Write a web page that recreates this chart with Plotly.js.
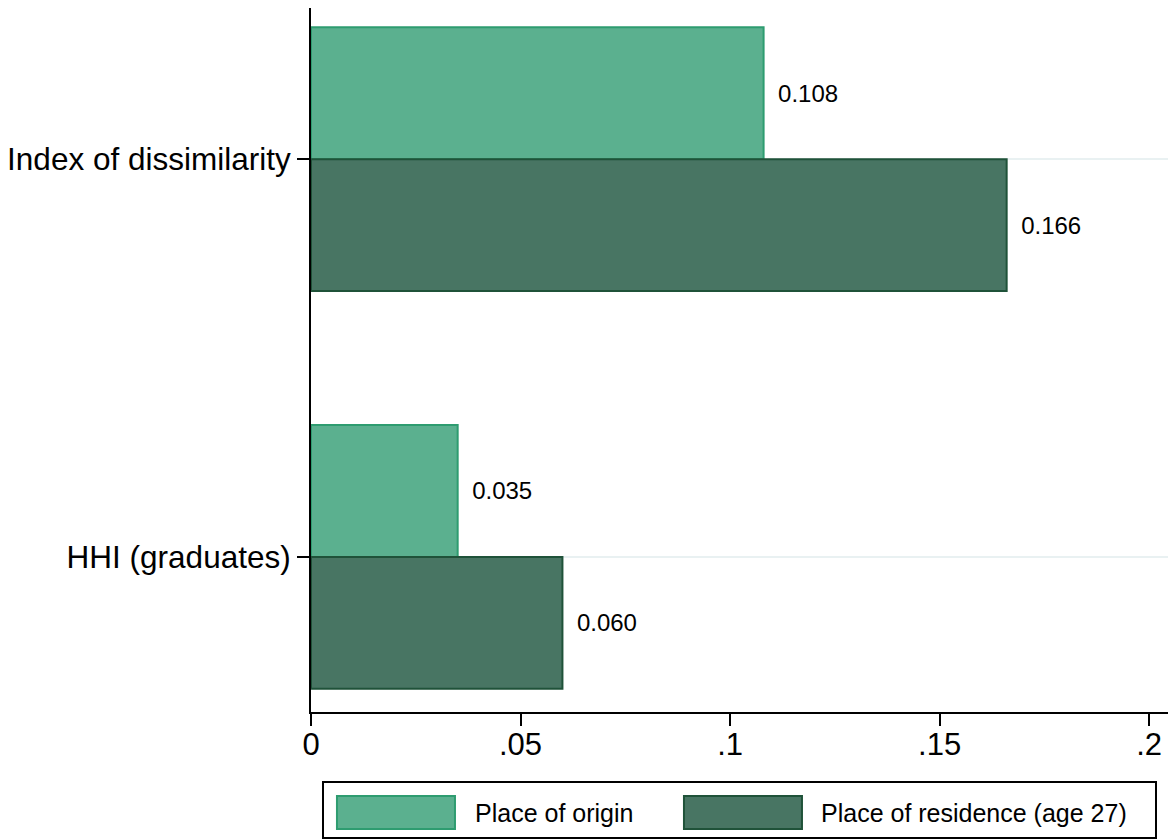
<!DOCTYPE html>
<html>
<head>
<meta charset="utf-8">
<script src="https://cdn.plot.ly/plotly-3.0.1.min.js"></script>
<style>html,body{margin:0;padding:0;background:#fff;}#chart{width:1172px;height:839px;}</style>
</head>
<body>
<div id="chart"></div>
<script>
const categories = ["Index of dissimilarity", "HHI (graduates)"];
const seriesNames = ["Place of origin", "Place of residence (age 27)"];
const originValues = [0.108, 0.035];
const residenceValues = [0.166, 0.060];
const xTickVals = [0, 0.05, 0.1, 0.15, 0.2];
const xTickText = ["0", ".05", ".1", ".15", ".2"];

const fills = ["#5BB08F", "#487563"];
const borders = ["#2E9C70", "#1F5239"];
const FONT = "Liberation Sans, Arial, sans-serif";

const traces = [originValues, residenceValues].map((vals, i) => ({
  type: "bar",
  orientation: "h",
  name: seriesNames[i],
  y: categories,
  x: vals,
  marker: {color: fills[i], line: {color: borders[i], width: 2}},
  texttemplate: "\u00a0\u2009%{x:.3f}",
  textposition: "outside",
  cliponaxis: false,
  textfont: {family: FONT, size: 24, color: "#000"},
  hoverinfo: "x+y",
  showlegend: false
}));

// custom legend (boxed, with large swatches)
const shapes = [
  {type: "rect", xref: "paper", yref: "paper", x0: 0.0140, x1: 0.9860, y0: -0.1790, y1: -0.0994,
   line: {color: "#000", width: 2}, fillcolor: "rgba(0,0,0,0)"}
];
const swatchX = [[0.0303, 0.1680], [0.4352, 0.5729]];
const textX = [0.1890, 0.5930];
const annotations = [];
seriesNames.forEach((name, i) => {
  shapes.push({type: "rect", xref: "paper", yref: "paper", x0: swatchX[i][0], x1: swatchX[i][1],
    y0: -0.1662, y1: -0.1193, fillcolor: fills[i], line: {color: borders[i], width: 2}});
  annotations.push({xref: "paper", yref: "paper", x: textX[i], y: -0.1428, xanchor: "left", yanchor: "middle",
    text: name, showarrow: false, font: {family: FONT, size: 25, color: "#000"}});
});

const layout = {
  width: 1172, height: 839,
  margin: {l: 311, r: 4, t: 8, b: 127, pad: 0},
  paper_bgcolor: "#fff", plot_bgcolor: "#fff",
  barmode: "group", bargap: 0.337, bargroupgap: 0,
  showlegend: false,
  font: {family: FONT, color: "#000"},
  xaxis: {
    range: [0, 0.2045], tickvals: xTickVals, ticktext: xTickText,
    ticks: "outside", ticklen: 12, tickwidth: 2, tickcolor: "#000",
    ticklabelstandoff: -8,
    showline: true, linecolor: "#000", linewidth: 2,
    showgrid: false, zeroline: false,
    tickfont: {family: FONT, size: 31, color: "#000"}
  },
  yaxis: {
    type: "category", range: [1.39, -0.38], autorange: false,
    ticks: "outside", ticklen: 12, tickwidth: 2, tickcolor: "#000",
    showline: true, linecolor: "#000", linewidth: 2,
    showgrid: true, gridcolor: "#E9F1F2", gridwidth: 2,
    zeroline: false,
    tickfont: {family: FONT, size: 31.5, color: "#000"}
  },
  shapes: shapes,
  annotations: annotations
};

Plotly.newPlot("chart", traces, layout, {displayModeBar: false, staticPlot: true});
</script>
</body>
</html>
